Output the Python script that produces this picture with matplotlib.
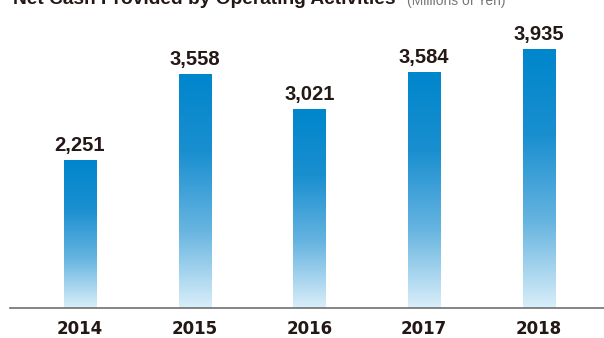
import matplotlib
matplotlib.use("Agg")
import matplotlib.pyplot as plt
from matplotlib.colors import LinearSegmentedColormap
import numpy as np

# Net cash provided by operating activities, millions of yen
years = ["2014", "2015", "2016", "2017", "2018"]
cash = [2251, 3558, 3021, 3584, 3935]

ink = "#231815"
grad = LinearSegmentedColormap.from_list("blau", ["#d9eef9", "#66b4e0", "#1a8fd0", "#0086cc"])

fig = plt.figure(figsize=(6.04, 3.38), dpi=100)
ax = fig.add_axes([10 / 604, 30 / 338, 594 / 604, 308 / 338])

x = np.arange(len(years))
bars = ax.bar(x, cash, width=0.279, color="none", edgecolor="none")
ramp = np.linspace(0, 1, 256).reshape(-1, 1)
for b, v in zip(bars, cash):
    # vertical gradient fill, clipped to the bar rectangle
    im = ax.imshow(ramp, cmap=grad, aspect="auto", origin="lower",
                   extent=[b.get_x(), b.get_x() + b.get_width(), 0, v], zorder=2)
    im.set_clip_path(b)
    ax.text(b.get_x() + b.get_width() / 2, v + 140, f"{v:,}", ha="center", va="baseline",
            fontsize=14.5, fontweight="bold", family="Liberation Sans", color=ink)

ax.set_xlim(-0.61, 4.567)
ax.set_ylim(0, 4680)
for s in ["top", "right", "left"]:
    ax.spines[s].set_visible(False)
ax.spines["bottom"].set_color("#707070")
ax.spines["bottom"].set_linewidth(1.2)
ax.set_yticks([])
ax.set_xticks(x)
ax.set_xticklabels(years, fontsize=12, fontweight="bold", color=ink)
ax.tick_params(axis="x", length=0, pad=9)

fig.text(13 / 604, 1 - 4.5 / 338, "Net Cash Provided by Operating Activities", ha="left",
         va="baseline", fontsize=13.8, fontweight="bold", family="Liberation Sans", color=ink)
fig.text(407 / 604, 1 - 4.5 / 338, "(Millions of Yen)", ha="left", va="baseline",
         fontsize=10, family="Liberation Sans", color="#777777")

fig.savefig("out.png", dpi=100)
